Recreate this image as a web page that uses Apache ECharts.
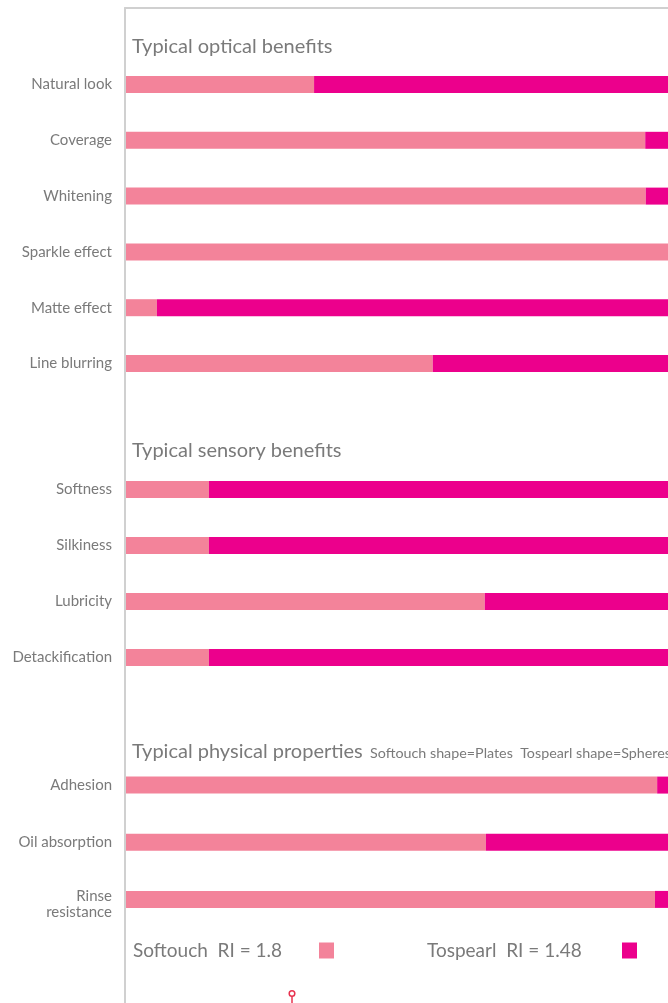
<!DOCTYPE html>
<html><head><meta charset="utf-8">
<style>html,body{margin:0;padding:0;background:#fff}#c{width:668px;height:1003px}</style>
<script src="https://cdn.jsdelivr.net/npm/echarts@6/dist/echarts.min.js"></script>
</head><body><div id="c"></div>
<script>
// Data
var opticalCats = ['Natural look', 'Coverage', 'Whitening', 'Sparkle effect', 'Matte effect', 'Line blurring'];
var opticalSoftouch = [34.7, 95.8, 95.9, 100, 5.7, 56.6];
var opticalTospearl = [65.3, 4.2, 4.1, 0, 94.3, 43.4];

var sensoryCats = ['Softness', 'Silkiness', 'Lubricity', 'Detackification'];
var sensorySoftouch = [15.3, 15.3, 66.2, 15.3];
var sensoryTospearl = [84.7, 84.7, 33.8, 84.7];

var physicalCats = ['Adhesion', 'Oil absorption', 'Rinse\nresistance'];
var physicalSoftouch = [98, 66.4, 97.6];
var physicalTospearl = [2, 33.6, 2.4];

var sectionTitles = ['Typical optical benefits', 'Typical sensory benefits', 'Typical physical properties'];
var shapeNote = 'Softouch shape=Plates  Tospearl shape=Spheres';
var legendLabels = ['Softouch  RI = 1.8', 'Tospearl  RI = 1.48'];

var C1 = '#F3839A', C2 = '#EC008C';
var GRAY = '#7a7a7a';
var FONT = 'Lato';

var chart = echarts.init(document.getElementById('c'), null, {renderer: 'canvas'});

var grids = [
  {left: 126, right: 0, top: 56.6, height: 334.8},
  {left: 126, right: 0, top: 461.5, height: 224},
  {left: 126, right: 0, top: 756.5, height: 171.5},
  {left: 125, right: 0, top: 8, bottom: 0}
];
var catsList = [opticalCats, sensoryCats, physicalCats];
var sData = [[opticalSoftouch, opticalTospearl], [sensorySoftouch, sensoryTospearl], [physicalSoftouch, physicalTospearl]];

function catLabel(v) {
  if (v.indexOf('\n') < 0) return v;
  return v.split('\n').map(function (s) { return '{m|' + s + '}'; }).join('\n');
}

var xAxes = [], yAxes = [], series = [];
for (var i = 0; i < 3; i++) {
  xAxes.push({gridIndex: i, type: 'value', min: 0, max: 100, show: false});
  yAxes.push({gridIndex: i, type: 'category', inverse: true, data: catsList[i],
    axisLine: {show: false}, axisTick: {show: false}, splitLine: {show: false},
    axisLabel: {color: GRAY, fontFamily: FONT, fontSize: 15, margin: 14, lineHeight: 16,
      formatter: catLabel,
      rich: {m: {color: GRAY, fontFamily: FONT, fontSize: 15, lineHeight: 16, padding: [10, 0, 0, 0]}}}});
  series.push({name: 'Softouch', type: 'bar', stack: 's' + i, xAxisIndex: i, yAxisIndex: i,
    barWidth: 17, itemStyle: {color: C1}, data: sData[i][0], silent: true});
  series.push({name: 'Tospearl', type: 'bar', stack: 's' + i, xAxisIndex: i, yAxisIndex: i,
    barWidth: 17, itemStyle: {color: C2}, data: sData[i][1], silent: true});
}
xAxes.push({gridIndex: 3, type: 'value', min: 0, max: 1, position: 'top',
  axisLine: {show: true, onZero: false, lineStyle: {color: '#d0d0d0', width: 2}},
  axisTick: {show: false}, axisLabel: {show: false}, splitLine: {show: false}});
yAxes.push({gridIndex: 3, type: 'value', min: 0, max: 1, position: 'left',
  axisLine: {show: true, onZero: false, lineStyle: {color: '#d0d0d0', width: 2}},
  axisTick: {show: false}, axisLabel: {show: false}, splitLine: {show: false}});

var titleStyle = {color: GRAY, fontFamily: FONT, fontSize: 20, fontWeight: 'normal'};
function legendItem(name, label, left, boxW) {
  return {data: [name], left: left, top: 941, padding: 0, align: 'right', icon: 'rect',
    itemWidth: 15, itemHeight: 16, selectedMode: false,
    formatter: function () { return '{t|' + label + '}'; },
    textStyle: {color: GRAY, fontFamily: FONT, fontSize: 19,
      rich: {t: {width: boxW, align: 'left', color: GRAY, fontFamily: FONT, fontSize: 19}}}};
}
var option = {
  animation: false,
  grid: grids,
  xAxis: xAxes,
  yAxis: yAxes,
  series: series,
  title: [
    {text: sectionTitles[0], left: 132, top: 37, padding: 0, textStyle: titleStyle},
    {text: sectionTitles[1], left: 132, top: 441, padding: 0, textStyle: titleStyle},
    {text: sectionTitles[2], left: 132, top: 742, padding: 0, textStyle: titleStyle},
    {text: shapeNote, left: 370, top: 746, padding: 0,
      textStyle: {color: GRAY, fontFamily: FONT, fontSize: 14.3, fontWeight: 'normal'}}
  ],
  legend: [
    legendItem('Softouch', legendLabels[0], 133, 181),
    legendItem('Tospearl', legendLabels[1], 427, 190)
  ],
  graphic: [
    {type: 'line', shape: {x1: 292, y1: 996, x2: 292, y2: 1003}, style: {stroke: '#e8334f', lineWidth: 1.5}},
    {type: 'circle', shape: {cx: 292, cy: 993.5, r: 2.8}, style: {stroke: '#e8334f', fill: '#fff', lineWidth: 1.5}}
  ]
};
chart.setOption(option);
</script></body></html>
